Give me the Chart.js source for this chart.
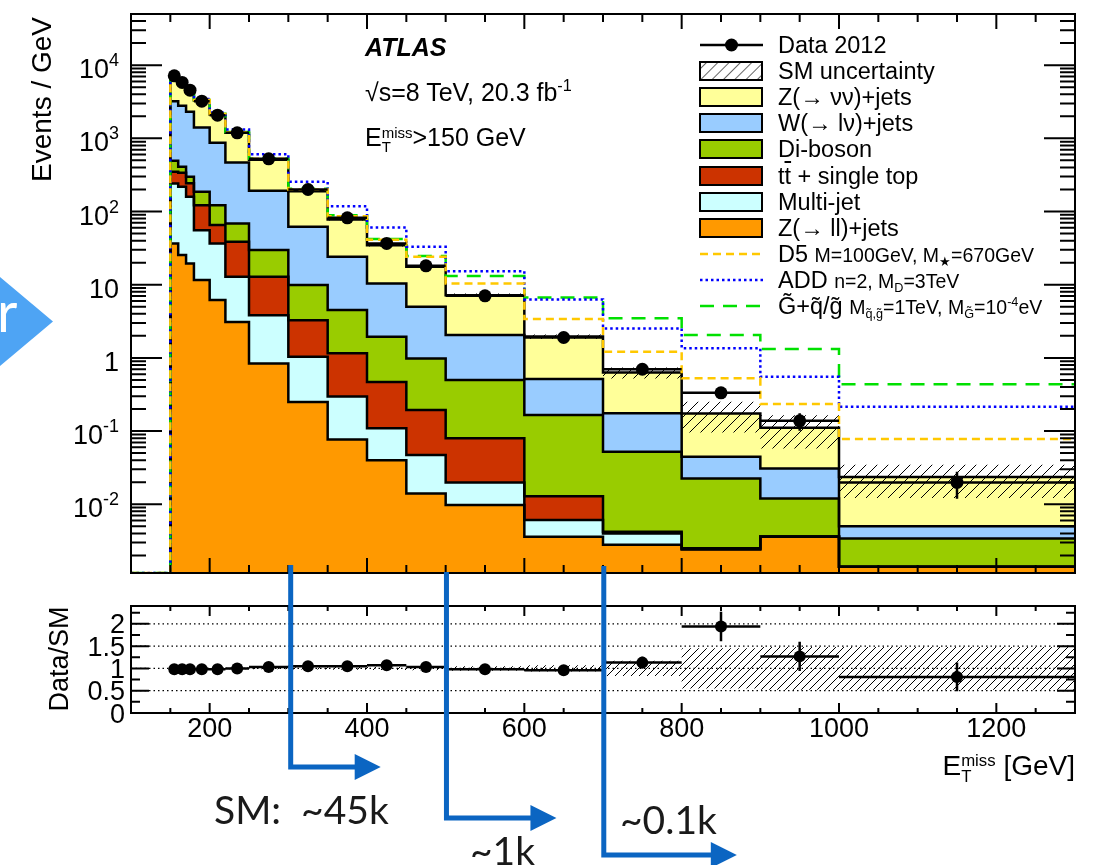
<!DOCTYPE html>
<html lang="en">
<head>
<meta charset="UTF-8">
<title>ATLAS monojet Emiss</title>
<script src="https://cdn.jsdelivr.net/npm/chart.js"></script>
<style>
  body { margin: 0; width: 1099px; height: 865px; overflow: hidden; position: relative; background: #fff;
         font-family: "Liberation Sans", Arial, sans-serif; color: #000; }
  canvas { position: absolute; left: 0; }
  #mainChart { top: 0; }
  #ratioChart { top: 555px; }
  .txt { position: absolute; white-space: nowrap; line-height: 1; }
  .rot { position: absolute; white-space: nowrap; transform-origin: 0 0; transform: rotate(-90deg); }
  .leg { position: absolute; left: 699px; height: 26px; width: 390px; }
  .leg svg { position: absolute; left: 0; top: 0; }
  .leg .lab { position: absolute; left: 79px; top: 0; font-size: 23.5px; line-height: 26px; white-space: nowrap; }
  .sm { font-size: 19.5px; }
  sub, sup { font-size: 0.65em; line-height: 0; }
  sub { vertical-align: -0.35em; }
  sup { vertical-align: 0.6em; }
  .ovl { text-decoration: overline; }
  .ss { display: inline-flex; flex-direction: column; font-size: 0.6em; line-height: 0.95; vertical-align: 0.55em; }
  .note { position: absolute; white-space: nowrap; font-family: Lato, "Open Sans", sans-serif; line-height: 1; color: #1a1a1a; }
  #tab { position: absolute; left: 0; top: 277px; width: 53px; height: 89px; background: #4ea4f4;
         clip-path: polygon(0 0, 100% 50%, 0 100%); overflow: hidden; }
  #tab span { position: absolute; left: -3px; top: 6px; color: #fff; font-family: Lato, sans-serif; font-size: 56px; line-height: 1; }
</style>
</head>
<body>
<canvas id="mainChart" width="1099" height="590"></canvas>
<canvas id="ratioChart" width="1099" height="310"></canvas>

<div class="rot" style="left:28px; top:317px; width:300px; text-align:right; font-size:28px; line-height:28px;">Events / GeV</div>
<div class="rot" style="left:45px; top:759px; width:200px; text-align:center; font-size:27px; line-height:28px;">Data/SM</div>
<div class="txt" style="right:24px; top:752px; font-size:28px;">E<span class="ss"><span>miss</span><span>T</span></span> [GeV]</div>

<div class="txt" style="left:365px; top:35px; font-size:25px; font-weight:bold; font-style:italic;">ATLAS</div>
<div class="txt" style="left:365px; top:80px; font-size:25px;">√s=8 TeV, 20.3 fb<sup>-1</sup></div>
<div class="txt" style="left:365px; top:125px; font-size:25px;">E<span class="ss"><span>miss</span><span>T</span></span>&gt;150 GeV</div>

<div id="legend"></div>

<div id="tab"><span>r</span></div>
<div class="note" style="left:214px; top:790px; font-size:39px;">SM:&nbsp; ~45k</div>
<div class="note" style="left:470px; top:831px; font-size:39px;">~1k</div>
<div class="note" style="left:620px; top:800px; font-size:39px;">~0.1k</div>

<script>
// bin edges in GeV
const edges = [150, 160, 170, 180, 200, 220, 250, 300, 350, 400, 450, 500, 600, 700, 800, 900, 1000, 1300];

// SM backgrounds, events / GeV (stack order bottom -> top)
const zll      = [36.6, 25.4, 19.5, 11.6, 6.2, 3.1, 0.84, 0.25, 0.077, 0.040, 0.014, 0.0098, 0.0036, 0.0028, 0.0024, 0.0036, 0.0014];
const multijet = [205, 192, 140, 44, 30.4, 9.7, 3.0, 0.79, 0.22, 0.069, 0.033, 0.010, 0.0025, 0.0012, 0.00005, 0.00002, 0];
const topQuark = [107, 121, 83, 66, 28.6, 25.7, 9.0, 2.24, 0.86, 0.36, 0.147, 0.060, 0.0068, 0.0002, 0.00005, 0.00002, 0];
const diboson  = [144, 70, 56, 64, 57, 30.3, 16.9, 6.6, 3.35, 1.47, 0.79, 0.42, 0.153, 0.048, 0.020, 0.0083, 0.0020];
const wlnu     = [2727, 2372, 2002, 1224, 747, 400, 162, 51.9, 19.6, 8.46, 4.0, 1.55, 0.347, 0.123, 0.022, 0.0189, 0.0016];
const znunu    = [4070, 3140, 2340, 1880, 1251, 721, 318, 128, 53.9, 24.1, 12.6, 5.15, 1.44, 0.455, 0.129, 0.080, 0.0185];
const smRelErr = [0.02, 0.02, 0.02, 0.02, 0.02, 0.02, 0.02, 0.025, 0.03, 0.035, 0.04, 0.05, 0.07, 0.17, 0.45, 0.48, 0.48];

// data 2012
const dataVals = [7140, 5800, 4550, 3220, 2075, 1190, 525, 200, 82, 36.6, 18.1, 7.05, 1.9, 0.70, 0.333, 0.138, 0.0199];
const dataErr  = [27, 24, 21, 13, 10, 6.3, 3.2, 2.0, 1.3, 0.86, 0.6, 0.27, 0.14, 0.085, 0.058, 0.037, 0.008];

// signals (SM + signal)
const sigD5   = [7340, 5970, 4690, 3330, 2150, 1215, 525, 200, 86, 41, 24.1, 10.4, 3.39, 1.21, 0.525, 0.234, 0.0778];
const sigADD  = [7500, 6100, 4800, 3450, 2260, 1324, 608, 255, 118, 60.7, 33.0, 15.3, 6.3, 2.53, 1.35, 0.552, 0.215];
const sigGrav = [7350, 5980, 4700, 3340, 2160, 1220, 530, 205, 89, 42, 24.6, 13.1, 6.71, 3.47, 2.05, 1.32, 0.435];

// ratio panel
const ratioVals = [0.98, 0.98, 0.98, 0.98, 0.98, 1.0, 1.03, 1.05, 1.05, 1.07, 1.03, 0.98, 0.96, 1.13, 1.94, 1.27, 0.81];
const ratioErr  = [0.004, 0.004, 0.005, 0.005, 0.005, 0.006, 0.007, 0.01, 0.016, 0.025, 0.035, 0.04, 0.07, 0.13, 0.33, 0.33, 0.32];

// axes
const X_MIN = 100, X_MAX = 1300;
const Y_MIN = 1.15e-3, Y_MAX = 5.0e4;
const R_MIN = 0, R_MAX = 2.4;
const yLabelValues = [1e-2, 1e-1, 1, 10, 1e2, 1e3, 1e4];
const xLabelValues = [200, 400, 600, 800, 1000, 1200];
const ratioLabelValues = [0, 0.5, 1, 1.5, 2];
const ratioGridValues = [0.5, 1, 1.5, 2];

// slide annotations: arrow start (GeV), bend height and arrow length (px)
const arrowCuts = [303, 501, 701];
const arrowTop = [565, 572, 566];
const arrowBend = [767, 818, 855];
const arrowLen = [90, 110, 133];

const stackColors = ['#ff9900', '#ccffff', '#cc3300', '#99cc00', '#99ccff', '#ffff99'];
const FONT = '"Liberation Sans", Arial, sans-serif';

const centers = edges.slice(0, -1).map((e, i) => (e + edges[i + 1]) / 2);

function stepPoints(vals, base) {
  const pts = [];
  if (base !== undefined) pts.push({ x: edges[0], y: base });
  vals.forEach((v, i) => pts.push({ x: edges[i], y: v }));
  pts.push({ x: edges[edges.length - 1], y: vals[vals.length - 1] });
  return pts;
}

function hatch(size, lw) {
  const c = document.createElement('canvas');
  c.width = c.height = size;
  const g = c.getContext('2d');
  g.strokeStyle = '#000';
  g.lineWidth = lw;
  g.beginPath();
  g.moveTo(0, size); g.lineTo(size, 0);
  g.moveTo(-size / 2, size / 2); g.lineTo(size / 2, -size / 2);
  g.moveTo(size / 2, size * 1.5); g.lineTo(size * 1.5, size / 2);
  g.stroke();
  return g.createPattern(c, 'repeat');
}

// cumulative stack
const components = [zll, multijet, topQuark, diboson, wlnu, znunu];
const cumulative = [];
let running = zll.map(() => 0);
components.forEach(c => {
  running = running.map((r, i) => r + c[i]);
  cumulative.push(running);
});
const smTotal = cumulative[cumulative.length - 1];

const mainDatasets = [];
cumulative.forEach((vals, k) => {
  mainDatasets.push({
    data: stepPoints(vals, Y_MIN),
    stepped: true,
    borderColor: '#000',
    borderWidth: 2.5,
    backgroundColor: stackColors[k],
    fill: k === 0 ? 'start' : k - 1,
    pointRadius: 0,
    order: 10
  });
});
const bandLoIndex = mainDatasets.length;
mainDatasets.push({
  data: stepPoints(smTotal.map((v, i) => v * (1 - smRelErr[i]))),
  stepped: true, borderWidth: 0, borderColor: 'rgba(0,0,0,0)', fill: false, pointRadius: 0, order: 5
});
mainDatasets.push({
  data: stepPoints(smTotal.map((v, i) => v * (1 + smRelErr[i]))),
  stepped: true, borderWidth: 0, borderColor: 'rgba(0,0,0,0)', backgroundColor: hatch(11, 1),
  fill: bandLoIndex, pointRadius: 0, order: 5
});

function sigPoints(vals) {
  return [{ x: X_MIN, y: Y_MIN }].concat(stepPoints(vals));
}
mainDatasets.push({ data: sigPoints(sigD5), stepped: true, borderColor: '#ffc800', borderWidth: 2.5,
  borderDash: [8, 5], fill: false, pointRadius: 0, order: 2 });
mainDatasets.push({ data: sigPoints(sigADD), stepped: true, borderColor: '#0000ff', borderWidth: 2.5,
  borderDash: [2.5, 3], fill: false, pointRadius: 0, order: 2 });
mainDatasets.push({ data: sigPoints(sigGrav), stepped: true, borderColor: '#00e000', borderWidth: 2.5,
  borderDash: [14, 9], fill: false, pointRadius: 0, order: 2 });

mainDatasets.push({
  data: centers.map((c, i) => ({ x: c, y: dataVals[i] })),
  showLine: false, pointRadius: 6.5, pointBackgroundColor: '#000', pointBorderColor: '#000',
  pointBorderWidth: 0, order: 0, errUp: dataErr, errDown: dataErr
});

// error bars drawn just before the marker dataset
const errorBars = {
  id: 'errorBars',
  beforeDatasetDraw(chart, args) {
    const ds = chart.data.datasets[args.index];
    if (!ds.errUp) return;
    const { ctx, chartArea: a, scales: { x, y } } = chart;
    const floor = chart.options.scales.y.min;
    ctx.save();
    ctx.beginPath();
    ctx.rect(a.left, a.top, a.right - a.left, a.bottom - a.top);
    ctx.clip();
    ctx.strokeStyle = '#000';
    ctx.lineWidth = 2.5;
    ctx.beginPath();
    ds.data.forEach((p, i) => {
      const px = x.getPixelForValue(p.x);
      const py = y.getPixelForValue(p.y);
      ctx.moveTo(x.getPixelForValue(edges[i]), py);
      ctx.lineTo(x.getPixelForValue(edges[i + 1]), py);
      ctx.moveTo(px, y.getPixelForValue(p.y + ds.errUp[i]));
      ctx.lineTo(px, y.getPixelForValue(Math.max(p.y - ds.errDown[i], floor)));
    });
    ctx.stroke();
    ctx.restore();
  }
};

function drawPow10(ctx, v, xRight, yBase) {
  const exp = Math.round(Math.log10(v));
  ctx.textAlign = 'right';
  ctx.textBaseline = 'alphabetic';
  if (exp === 0 || exp === 1) {
    ctx.font = '27px ' + FONT;
    ctx.fillText(exp === 0 ? '1' : '10', xRight, yBase);
    return;
  }
  const sup = String(exp);
  ctx.font = '18px ' + FONT;
  const w = ctx.measureText(sup).width;
  ctx.fillText(sup, xRight, yBase - 12);
  ctx.font = '27px ' + FONT;
  ctx.fillText('10', xRight - w, yBase);
}

const mainFrame = {
  id: 'mainFrame',
  afterDraw(chart) {
    const { ctx, chartArea: a, scales: { x, y } } = chart;
    ctx.save();
    ctx.strokeStyle = '#000';
    ctx.lineWidth = 2;
    ctx.beginPath();
    for (let v = X_MIN; v <= X_MAX; v += 50) {
      const px = x.getPixelForValue(v);
      const len = v % 200 === 0 ? 15 : 8;
      ctx.moveTo(px, a.bottom); ctx.lineTo(px, a.bottom - len);
      ctx.moveTo(px, a.top); ctx.lineTo(px, a.top + len);
    }
    for (let e = -3; e <= 4; e++) {
      for (let m = 1; m <= 9; m++) {
        const v = m * Math.pow(10, e);
        if (v < Y_MIN || v > Y_MAX) continue;
        const py = y.getPixelForValue(v);
        const len = m === 1 ? 31 : 15;
        ctx.moveTo(a.left, py); ctx.lineTo(a.left + len, py);
        ctx.moveTo(a.right, py); ctx.lineTo(a.right - len, py);
      }
    }
    ctx.stroke();
    ctx.strokeRect(a.left, a.top, a.right - a.left, a.bottom - a.top);
    ctx.fillStyle = '#000';
    yLabelValues.forEach(v => drawPow10(ctx, v, a.left - 12, y.getPixelForValue(v) + 13));
    ctx.restore();
  }
};

new Chart(document.getElementById('mainChart'), {
  type: 'line',
  data: { datasets: mainDatasets },
  options: {
    responsive: false,
    animation: false,
    layout: { padding: { left: 131, right: 24, top: 14, bottom: 17 } },
    scales: {
      x: { type: 'linear', min: X_MIN, max: X_MAX, display: false },
      y: { type: 'logarithmic', min: Y_MIN, max: Y_MAX, display: false }
    },
    elements: { line: { tension: 0, borderJoinStyle: 'miter' } },
    plugins: { legend: { display: false }, tooltip: { enabled: false }, filler: { drawTime: 'beforeDatasetsDraw' } }
  },
  plugins: [errorBars, mainFrame]
});

// ratio panel
const ratioDatasets = [
  { data: stepPoints(smRelErr.map(r => 1 - r)), stepped: true, borderWidth: 0, borderColor: 'rgba(0,0,0,0)',
    fill: false, pointRadius: 0, order: 5 },
  { data: stepPoints(smRelErr.map(r => 1 + r)), stepped: true, borderWidth: 0, borderColor: 'rgba(0,0,0,0)',
    backgroundColor: hatch(8, 1), fill: 0, pointRadius: 0, order: 5 },
  { data: centers.map((c, i) => ({ x: c, y: ratioVals[i] })), showLine: false, pointRadius: 6, pointBackgroundColor: '#000',
    pointBorderColor: '#000', pointBorderWidth: 0, order: 0, errUp: ratioErr, errDown: ratioErr }
];

const ratioFrame = {
  id: 'ratioFrame',
  beforeDatasetsDraw(chart) {
    const { ctx, chartArea: a, scales: { y } } = chart;
    ctx.save();
    ctx.strokeStyle = '#000';
    ctx.lineWidth = 1.2;
    ctx.setLineDash([1.5, 3]);
    ctx.beginPath();
    ratioGridValues.forEach(v => {
      const py = y.getPixelForValue(v);
      ctx.moveTo(a.left, py); ctx.lineTo(a.right, py);
    });
    ctx.stroke();
    ctx.restore();
  },
  afterDraw(chart) {
    const { ctx, chartArea: a, scales: { x, y } } = chart;
    ctx.save();
    ctx.strokeStyle = '#000';
    ctx.lineWidth = 2;
    ctx.beginPath();
    for (let v = X_MIN; v <= X_MAX; v += 50) {
      const px = x.getPixelForValue(v);
      const major = v % 200 === 0;
      ctx.moveTo(px, a.bottom); ctx.lineTo(px, a.bottom - (major ? 10 : 5));
      ctx.moveTo(px, a.top); ctx.lineTo(px, a.top + (major ? 10 : 5));
    }
    for (let v = R_MIN; v <= R_MAX; v += 0.25) {
      const py = y.getPixelForValue(v);
      const len = Math.abs(v * 2 - Math.round(v * 2)) < 1e-6 ? 18 : 9;
      ctx.moveTo(a.left, py); ctx.lineTo(a.left + len, py);
      ctx.moveTo(a.right, py); ctx.lineTo(a.right - len, py);
    }
    ctx.stroke();
    ctx.strokeRect(a.left, a.top, a.right - a.left, a.bottom - a.top);

    ctx.fillStyle = '#000';
    ctx.font = '27px ' + FONT;
    ctx.textAlign = 'right';
    ctx.textBaseline = 'alphabetic';
    ratioLabelValues.forEach(v => ctx.fillText(String(v), a.left - 6, y.getPixelForValue(v) + 9.5));
    ctx.textAlign = 'center';
    xLabelValues.forEach(v => ctx.fillText(String(v), x.getPixelForValue(v), a.bottom + 24));

    // slide arrows
    const top = chart.canvas.offsetTop;
    ctx.strokeStyle = '#0b65c2';
    ctx.fillStyle = '#0b65c2';
    ctx.lineWidth = 5;
    arrowCuts.forEach((cut, i) => {
      const px = x.getPixelForValue(cut);
      const yb = arrowBend[i] - top;
      const tip = px + arrowLen[i];
      ctx.beginPath();
      ctx.moveTo(px, arrowTop[i] - top);
      ctx.lineTo(px, yb);
      ctx.lineTo(tip - 24, yb);
      ctx.stroke();
      ctx.beginPath();
      ctx.moveTo(tip - 26, yb - 13);
      ctx.lineTo(tip, yb);
      ctx.lineTo(tip - 26, yb + 13);
      ctx.closePath();
      ctx.fill();
    });
    ctx.restore();
  }
};

new Chart(document.getElementById('ratioChart'), {
  type: 'line',
  data: { datasets: ratioDatasets },
  options: {
    responsive: false,
    animation: false,
    layout: { padding: { left: 131, right: 24, top: 51, bottom: 152 } },
    scales: {
      x: { type: 'linear', min: X_MIN, max: X_MAX, display: false },
      y: { type: 'linear', min: R_MIN, max: R_MAX, display: false }
    },
    elements: { line: { tension: 0 } },
    plugins: { legend: { display: false }, tooltip: { enabled: false }, filler: { drawTime: 'beforeDatasetsDraw' } }
  },
  plugins: [errorBars, ratioFrame]
});

// legend
const legendItems = [
  ['data', '#000', 'Data 2012'],
  ['hatch', '#000', 'SM uncertainty'],
  ['box', stackColors[5], 'Z(→ νν)+jets'],
  ['box', stackColors[4], 'W(→ lν)+jets'],
  ['box', stackColors[3], 'Di-boson'],
  ['box', stackColors[2], 't<span class="ovl">t</span> + single top'],
  ['box', stackColors[1], 'Multi-jet'],
  ['box', stackColors[0], 'Z(→ ll)+jets'],
  ['line', '#ffc800', 'D5 <span class="sm">M=100GeV, M<sub>★</sub>=670GeV</span>', '8 5'],
  ['line', '#0000ff', 'ADD <span class="sm">n=2, M<sub>D</sub>=3TeV</span>', '2.5 3'],
  ['line', '#00e000', 'G̃+q̃/g̃ <span class="sm">M<sub>q̃,g̃</sub>=1TeV, M<sub>G̃</sub>=10<sup>-4</sup>eV</span>', '14 9']
];
const legendEl = document.getElementById('legend');
legendItems.forEach(([kind, color, label, dash], i) => {
  let sym = '';
  if (kind === 'data') {
    sym = '<line x1="1" y1="13" x2="64" y2="13" stroke="#000" stroke-width="2.5"/><circle cx="32.5" cy="13" r="6.5" fill="#000"/>';
  } else if (kind === 'hatch') {
    sym = '<defs><pattern id="lh" width="8" height="8" patternUnits="userSpaceOnUse" patternTransform="rotate(45)">' +
          '<line x1="0" y1="0" x2="0" y2="8" stroke="#000" stroke-width="1.2"/></pattern></defs>' +
          '<rect x="1" y="4" width="62" height="18" fill="#fff" stroke="none"/>' +
          '<rect x="1" y="4" width="62" height="18" fill="url(#lh)" stroke="#000" stroke-width="2"/>';
  } else if (kind === 'box') {
    sym = '<rect x="1" y="4" width="62" height="18" fill="' + color + '" stroke="#000" stroke-width="2"/>';
  } else {
    sym = '<line x1="1" y1="13" x2="64" y2="13" stroke="' + color + '" stroke-width="2.5" stroke-dasharray="' + dash + '"/>';
  }
  const row = document.createElement('div');
  row.className = 'leg';
  row.style.top = (45 + i * 26.1 - 13) + 'px';
  row.innerHTML = '<svg width="66" height="26">' + sym + '</svg><div class="lab">' + label + '</div>';
  legendEl.appendChild(row);
});
</script>
</body>
</html>
